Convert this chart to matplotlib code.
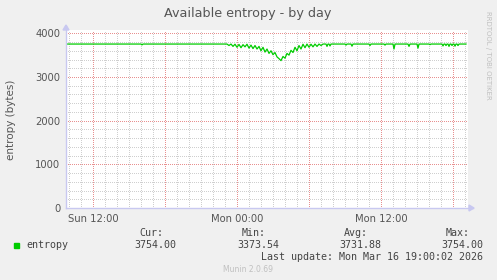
import numpy as np
import matplotlib
matplotlib.use("Agg")
import matplotlib.pyplot as plt

# time axis in minutes after Sun 12:00
t_first = -130
t_last = 1865
baseline = 3754.0

# busy stretch around midnight, one value every 10 minutes
noisy_start = 660
noisy_values = [3754, 3754, 3720, 3754, 3700, 3750, 3680, 3745, 3670, 3740,
                3690, 3750, 3660, 3730, 3650, 3720, 3640, 3700, 3600, 3680,
                3570, 3640, 3540, 3600, 3510, 3560, 3460, 3420, 3374, 3470,
                3430, 3540, 3500, 3610, 3560, 3680, 3600, 3720, 3640, 3750,
                3670, 3754, 3680, 3750, 3690, 3754, 3700, 3754, 3720, 3754,
                3754]

# isolated dips
dip_times = [245, 1170, 1185, 1265, 1295, 1385, 1460, 1505, 1580, 1625,
             1685, 1750, 1765, 1780, 1795, 1810, 1825]
dip_values = [3735, 3700, 3710, 3730, 3705, 3720, 3730, 3640, 3700, 3660,
              3740, 3710, 3720, 3700, 3720, 3705, 3720]

tick_pos = [0, 720, 1440]
tick_labels = ["Sun 12:00", "Mon 00:00", "Mon 12:00"]

cur, vmin, avg, vmax = "3754.00", "3373.54", "3731.88", "3754.00"

# assemble the series
pts = [(t_first, baseline), (t_last, baseline)]
noisy_t = noisy_start + 10 * np.arange(len(noisy_values))
pts += list(zip(noisy_t, noisy_values))
for t, v in zip(dip_times, dip_values):
    pts += [(t - 5, baseline), (t, v), (t + 5, baseline)]
pts.sort()
tt = [p[0] for p in pts]
vv = [p[1] for p in pts]

W, H = 497, 280
bg = "#F0F0F0"
fig = plt.figure(figsize=(W / 100, H / 100), dpi=100, facecolor=bg)
L, R, B, T = 66, 468, 208, 30
ax = fig.add_axes([L / W, 1 - B / H, (R - L) / W, (B - T) / H])
ax.set_facecolor("white")

ymax = 4000 * (B - T) / (B - 33.3)
ax.set_xlim(-135, 1875)
ax.set_ylim(0, ymax)

px = 0.72
dot = (0, (1, 2))
red, grey = "#E89090", "#CFCFCF"
grid_kw = dict(lw=px, ls=dot, antialiased=False)
for x in np.arange(-120, 1875, 60):
    if x % 360:
        ax.axvline(x, color=grey, zorder=1, **grid_kw)
for y in np.arange(200, 4001, 200):
    if y % 1000:
        ax.axhline(y, color=grey, zorder=1, **grid_kw)
for x in np.arange(0, 1875, 360):
    ax.axvline(x, color=red, zorder=2, **grid_kw)
for y in np.arange(1000, 4001, 1000):
    ax.axhline(y, color=red, zorder=2, **grid_kw)

ax.plot(tt, vv, color="#00CC00", lw=0.9, zorder=3)

for s in ax.spines.values():
    s.set_visible(False)
ax.set_xticks(tick_pos)
ax.set_xticklabels(tick_labels)
ax.set_yticks([0, 1000, 2000, 3000, 4000])
ax.tick_params(length=0, labelsize=7.2, labelcolor="#555555", pad=4)

# axes with arrows
axc = "#C8C8F0"
fig.add_artist(plt.Line2D([L / W, 473 / W], [1 - B / H] * 2, color=axc, lw=1))
fig.add_artist(plt.Line2D([L / W] * 2, [1 - B / H, 1 - 26 / H], color=axc, lw=1))
fig.add_artist(plt.Polygon([[469 / W, 1 - 205 / H], [469 / W, 1 - 211 / H], [474 / W, 1 - B / H]],
                           closed=True, color=axc))
fig.add_artist(plt.Polygon([[63 / W, 1 - 30 / H], [69 / W, 1 - 30 / H], [L / W, 1 - 25 / H]],
                           closed=True, color=axc))

fig.text(248 / W, 1 - 13 / H, "Available entropy - by day", ha="center", va="center",
         fontsize=9.2, color="#555555")
fig.text(11 / W, 1 - 120 / H, "entropy (bytes)", ha="center", va="center",
         rotation=90, fontsize=7.5, color="#555555")
fig.text(488 / W, 1 - 55 / H, "RRDTOOL / TOBI OETIKER", ha="center", va="center",
         rotation=270, fontsize=5, color="#C0C0C0")

mono = dict(family="DejaVu Sans Mono", fontsize=7.2, color="#444444", va="center")
for xe, s in zip([163, 266, 368, 470], ["Cur:", "Min:", "Avg:", "Max:"]):
    fig.text(xe / W, 1 - 233 / H, s, ha="right", **mono)
for xe, s in zip([176, 279, 381, 483], [cur, vmin, avg, vmax]):
    fig.text(xe / W, 1 - 244.5 / H, s, ha="right", **mono)
fig.text(26 / W, 1 - 244.5 / H, "entropy", ha="left", **mono)
fig.add_artist(plt.Rectangle((14 / W, 1 - 248 / H), 5 / W, 5 / H, color="#00CC00"))
fig.text(483 / W, 1 - 256.5 / H, "Last update: Mon Mar 16 19:00:02 2026", ha="right", **mono)
fig.text(248 / W, 1 - 269.5 / H, "Munin 2.0.69", ha="center", va="center",
         fontsize=5.5, color="#C0C0C0")

fig.savefig("out.png", dpi=100, facecolor=bg)
